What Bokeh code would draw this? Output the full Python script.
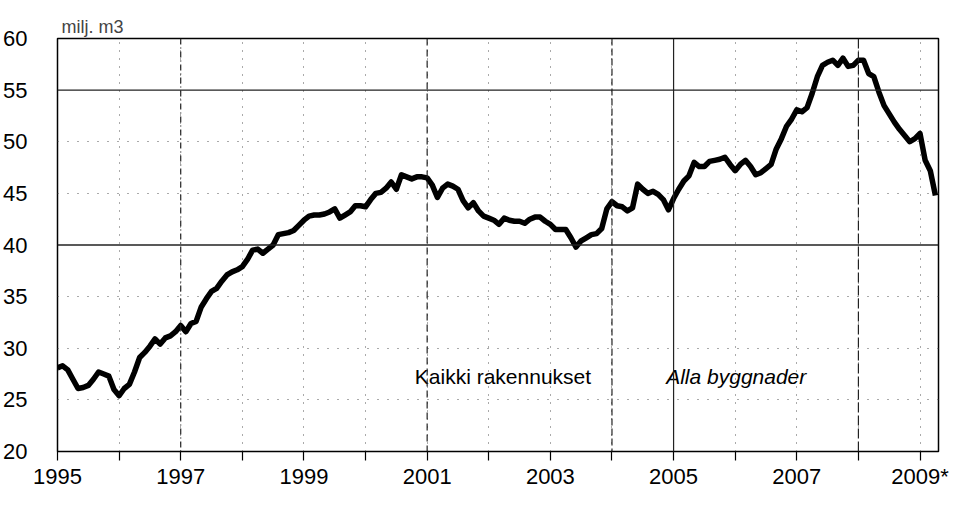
from bokeh.plotting import figure
from bokeh.models import Range1d, FixedTicker, Span
from bokeh.core.properties import value
from bokeh.embed import file_html
from bokeh.resources import INLINE

# Monthly values, million m3 (Kaikki rakennukset / Alla byggnader)
v1995 = [28.1, 28.3, 27.9, 27.0, 26.1, 26.2, 26.4, 27.0, 27.7, 27.5, 27.3, 26.0]
v1996 = [25.4, 26.1, 26.5, 27.7, 29.1, 29.6, 30.2, 30.9, 30.4, 31.0, 31.2, 31.6]
v1997 = [32.2, 31.6, 32.4, 32.6, 34.0, 34.8, 35.5, 35.8, 36.5, 37.1, 37.4, 37.6]
v1998 = [37.9, 38.6, 39.5, 39.6, 39.2, 39.6, 40.0, 41.0, 41.1, 41.2, 41.4, 41.9]
v1999 = [42.4, 42.8, 42.9, 42.9, 43.0, 43.2, 43.5, 42.6, 42.9, 43.2, 43.8, 43.8]
v2000 = [43.7, 44.4, 45.0, 45.1, 45.5, 46.1, 45.4, 46.8, 46.6, 46.4, 46.6, 46.6]
v2001 = [46.5, 45.8, 44.6, 45.5, 45.9, 45.7, 45.4, 44.3, 43.6, 44.1, 43.3, 42.8]
v2002 = [42.6, 42.4, 42.0, 42.6, 42.4, 42.3, 42.3, 42.1, 42.5, 42.7, 42.7, 42.3]
v2003 = [42.0, 41.5, 41.5, 41.5, 40.7, 39.8, 40.4, 40.7, 41.0, 41.1, 41.6, 43.5]
v2004 = [44.2, 43.8, 43.7, 43.3, 43.6, 45.9, 45.4, 45.0, 45.2, 44.9, 44.4, 43.4]
v2005 = [44.5, 45.4, 46.2, 46.7, 48.0, 47.6, 47.6, 48.1, 48.2, 48.3, 48.5, 47.8]
v2006 = [47.2, 47.8, 48.2, 47.6, 46.8, 47.0, 47.4, 47.8, 49.3, 50.3, 51.5, 52.2]
v2007 = [53.1, 52.9, 53.3, 54.7, 56.3, 57.4, 57.7, 57.9, 57.4, 58.1, 57.3, 57.4]
v2008 = [57.9, 57.9, 56.6, 56.3, 54.8, 53.5, 52.7, 51.9, 51.2, 50.6, 50.0, 50.3]
v2009 = [50.8, 48.2, 47.2, 44.8]

start_year = 1995
tick_years = list(range(1995, 2010))
label_years = [1995, 1997, 1999, 2001, 2003, 2005, 2007, 2009]
y_ticks = [20, 25, 30, 35, 40, 45, 50, 55, 60]
unit_label = "milj. m3"
label_fi = "Kaikki rakennukset"
label_sv = "Alla byggnader"

values = (v1995 + v1996 + v1997 + v1998 + v1999 + v2000 + v2001 + v2002 +
          v2003 + v2004 + v2005 + v2006 + v2007 + v2008 + v2009)
xs = [start_year + i / 12.0 for i in range(len(values))]

FONT = "Liberation Sans"

p = figure(width=950, height=491, output_backend="svg", toolbar_location=None,
           x_range=Range1d(1995, 2009.3), y_range=Range1d(20, 60),
           min_border_left=56, min_border_right=12, min_border_top=38,
           min_border_bottom=34)

p.title.text = unit_label
p.title.text_font = FONT
p.title.text_font_size = "18px"
p.title.text_font_style = "normal"
p.title.align = "left"
p.title.offset = 4
p.title.standoff = 4

p.outline_line_color = "black"
p.outline_line_width = 1.5
p.outline_line_alpha = 1.0
p.background_fill_color = "white"
p.border_fill_color = "white"

# axes
xa = p.xaxis[0]
xa.ticker = FixedTicker(ticks=tick_years)
overrides = {}
for yv in tick_years:
    if yv in label_years:
        overrides[yv] = str(yv) + ("*" if yv == 2009 else "")
    else:
        overrides[yv] = ""
xa.major_label_overrides = overrides
xa.major_label_text_font = FONT
xa.major_label_text_font_size = "22px"
xa.major_label_text_color = "black"
xa.major_tick_out = 9
xa.major_tick_in = 0
xa.major_tick_line_color = "black"
xa.major_tick_line_width = 1.2
xa.minor_tick_line_color = None
xa.axis_line_color = None
xa.major_label_standoff = 3

ya = p.yaxis[0]
ya.ticker = FixedTicker(ticks=y_ticks)
ya.major_label_text_font = FONT
ya.major_label_text_font_size = "22px"
ya.major_label_text_color = "black"
ya.major_tick_line_color = None
ya.minor_tick_line_color = None
ya.axis_line_color = None
ya.major_label_standoff = 24

# grids: sparse dotted grid at every tick
p.xgrid.ticker = FixedTicker(ticks=tick_years)
p.xgrid.grid_line_color = "#555555"
p.xgrid.grid_line_dash = "1 7"
p.xgrid.grid_line_width = 1
p.ygrid.ticker = FixedTicker(ticks=[25, 30, 35, 45, 50])
p.ygrid.grid_line_color = "#555555"
p.ygrid.grid_line_dash = "1 9"
p.ygrid.grid_line_width = 1

# emphasised grid lines
for yv in [40, 55]:
    p.add_layout(Span(location=yv, dimension="width", line_color="#222222",
                      line_width=1.3))
for xv, dash in [(1997, "6 3 1 3"), (2001, "7 4"), (2004, "7 3"),
                 (2005, "solid"), (2008, "10 3")]:
    p.add_layout(Span(location=xv, dimension="height", line_color="#222222",
                      line_width=1.2, line_dash=dash))

p.line(xs, values, line_color="black", line_width=5.5, line_join="round")

p.text(x=[2000.8], y=[27.3], text=[label_fi], text_font=value(FONT),
       text_font_size="21px", text_baseline="middle", text_align="left",
       text_color="black")
p.text(x=[2004.88], y=[27.3], text=[label_sv], text_font=value(FONT),
       text_font_size="21px", text_font_style="italic", text_baseline="middle",
       text_align="left", text_color="black")

open("out.html", "w").write(file_html(p, INLINE))
